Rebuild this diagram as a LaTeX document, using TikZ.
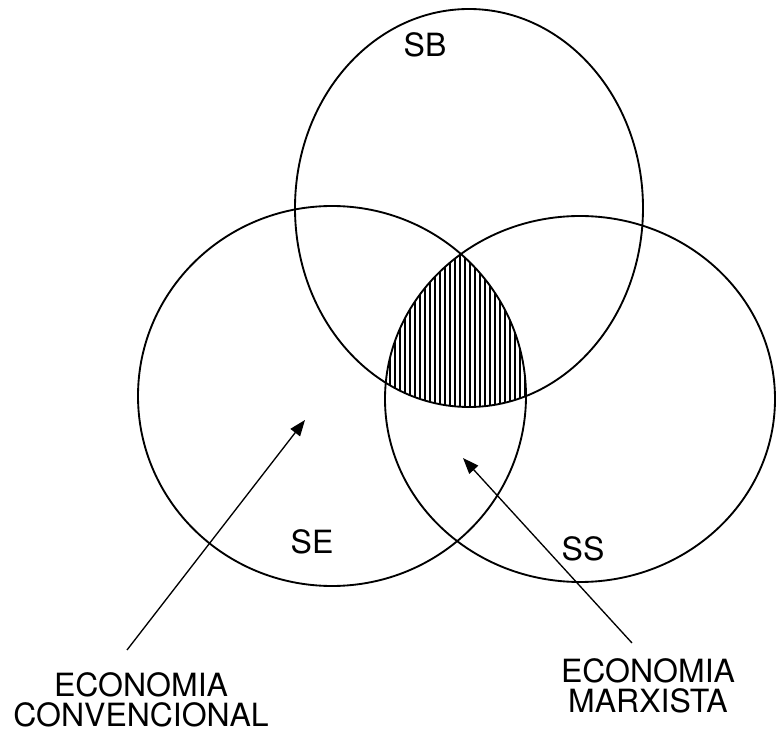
\documentclass[tikz,border=0pt]{standalone}
\usepackage{fontspec}
\setmainfont{TeX Gyre Heros}
\usetikzlibrary{positioning, arrows.meta}

\begin{document}
\begin{tikzpicture}[x=0.75pt, y=-0.75pt, line width=1.4pt,
    font=\fontsize{24}{22.5}\selectfont,
    setlabel/.style={inner sep=0pt},
    pointer/.style={-{Triangle[length=12pt, width=9pt]}, line width=1pt},
    hatch/.style={line width=1.7pt}]
  \useasboundingbox (0,0) rectangle (776,734);
  \coordinate (cb) at (469,208);
  \coordinate (ce) at (332,396);
  \coordinate (cs) at (580,399);
  \begin{scope}
    \clip (cb) ellipse [x radius=174, y radius=199];
    \clip (ce) ellipse [x radius=194, y radius=190];
    \clip (cs) ellipse [x radius=195, y radius=183];
    \foreach \x in {380,385,...,535}
      \draw[hatch] (\x,240) -- (\x,420);
  \end{scope}
  \draw (cb) ellipse [x radius=174, y radius=199];
  \draw (ce) ellipse [x radius=194, y radius=190];
  \draw (cs) ellipse [x radius=195, y radius=183];
  \node[setlabel] (sb) at (425,45) {SB};
  \node[setlabel] (se) at (312,542) {SE};
  \node[setlabel] (ss) at (583,549) {SS};
  \node[setlabel, align=center] (conv) at (141,700) {ECONOMIA\\CONVENCIONAL};
  \node[setlabel, align=center] (marx) at (648,686) {ECONOMIA\\MARXISTA};
  \coordinate (convend) at (127,650);
  \coordinate (convtip) at (305,420);
  \coordinate (marxend) at (632,643);
  \coordinate (marxtip) at (463,458);
  \draw[pointer] (convend) -- (convtip);
  \draw[pointer] (marxend) -- (marxtip);
\end{tikzpicture}
\end{document}
